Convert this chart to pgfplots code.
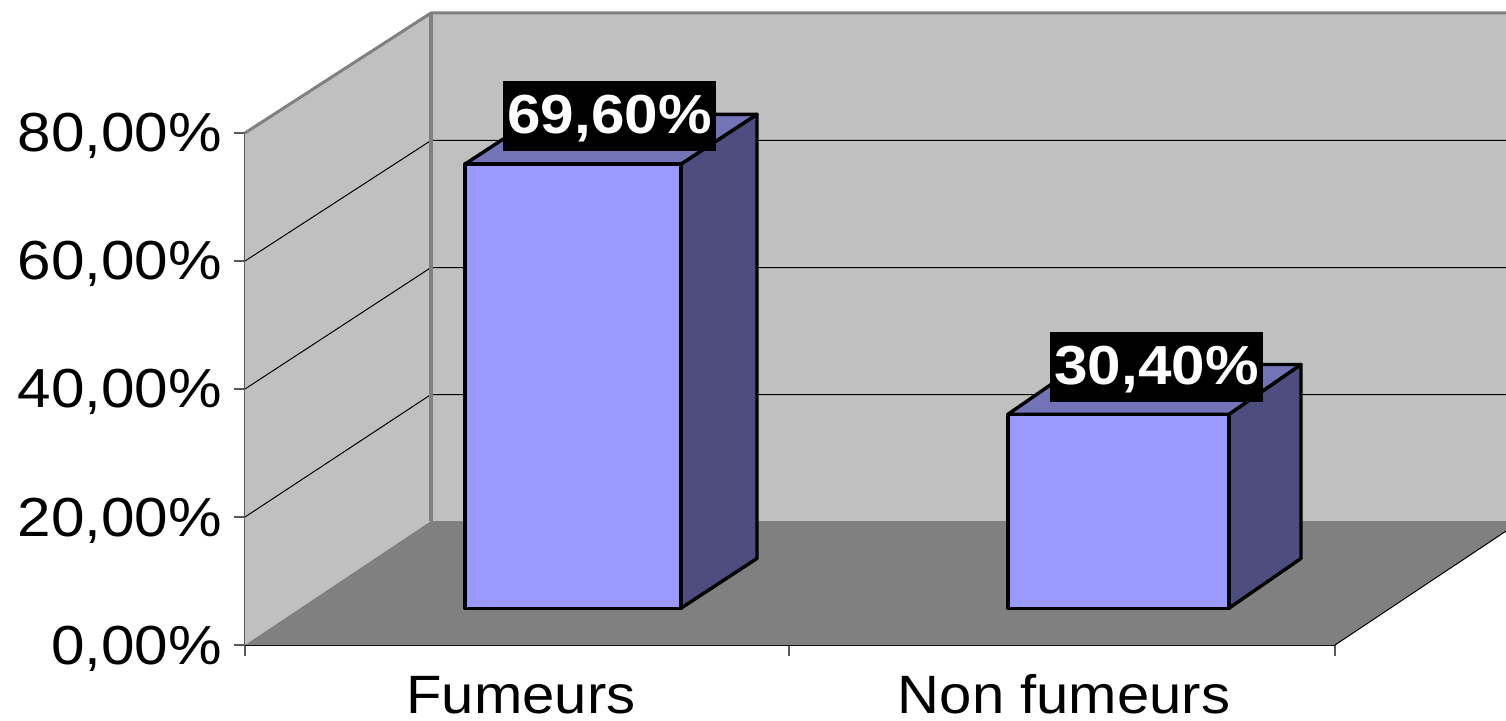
\documentclass[border=0pt]{standalone}
\usepackage{pgfplots}
\pgfplotsset{compat=1.18}
\usepackage{fontspec}
\setmainfont{Liberation Sans}
\newfontfamily\widefont[FakeStretch=1.075]{Liberation Sans}
\newfontfamily\widerfont[FakeStretch=1.095]{Liberation Sans}
\definecolor{wall}{HTML}{C0C0C0}
\definecolor{floorc}{HTML}{808080}
\definecolor{barfront}{HTML}{9999FF}
\definecolor{barside}{HTML}{4D4D80}
\definecolor{bartop}{HTML}{7373B8}
\begin{document}
\begin{tikzpicture}[x=1pt,y=1pt]
\path[use as bounding box] (-245pt,-75pt) rectangle (1261pt,645pt);
\begin{axis}[
  scale only axis, width=1090pt, height=512pt,
  xmin=245, xmax=1335, ymin=0, ymax=80,
  clip=false,
  axis lines=left,
  axis line style={-, black, line width=1.6pt},
  y axis line style={draw=black!70},
  tick align=outside,
  xtick={245,789,1335}, xticklabels={},
  ytick={0,20,40,60,80},
  yticklabels={{0,00\%},{20,00\%},{40,00\%},{60,00\%},{80,00\%}},
  tick style={black!65, line width=1.4pt},
  major tick length=11pt,
  minor tick length=0pt,
  extra x ticks={521,1064},
  extra x tick labels={Fumeurs,Non fumeurs},
  extra x tick style={major tick length=0pt,
    xticklabel style={font=\widefont\fontsize{54}{56}\selectfont, anchor=base, yshift=-68pt, inner sep=0pt}},
  yticklabel style={font=\widerfont\fontsize{55}{57}\selectfont, anchor=base east, yshift=-19pt, xshift=-12pt, inner sep=0pt},
  bar3/.style={draw=black, line width=3.4pt, line join=round, y filter/.expression={0.997*y+5.75}},
]
% walls and floor
\addplot[fill=wall, draw=none] coordinates {(431,19.375)(1506,19.375)(1506,98.75)(431,98.75)} -- cycle;
\addplot[fill=wall, draw=none] coordinates {(245,0)(431,19.375)(431,98.75)(245,80)} -- cycle;
\addplot[fill=floorc, draw=none] coordinates {(245,0)(431,19.375)(1506,19.375)(1506,17.8)(1335,0)} -- cycle;
% floor edge
\addplot[black, line width=1pt] coordinates {(1335,0)(1506,17.8)};
% gridlines
\addplot[black, line width=1pt] coordinates {(245,20)(431,39.14)(1506,39.14)};
\addplot[black, line width=1pt] coordinates {(245,40)(431,58.98)(1506,58.98)};
\addplot[black, line width=1pt] coordinates {(245,60)(431,78.83)(1506,78.83)};
% wall edges
\addplot[floorc, line width=3pt] coordinates {(245,80)(431,98.75)(1506,98.75)};
\addplot[floorc, line width=3.5pt] coordinates {(431,19.375)(431,98.75)};
% Fumeurs 69.6
\addplot[bar3, fill=barside] coordinates {(681,0)(757,7.8)(757,77.4)(681,69.6)} -- cycle;
\addplot[bar3, fill=bartop] coordinates {(465,69.6)(681,69.6)(757,77.4)(541,77.4)} -- cycle;
\addplot[bar3, fill=barfront] coordinates {(465,0)(681,0)(681,69.6)(465,69.6)} -- cycle;
% Non fumeurs 30.4
\addplot[bar3, fill=barside] coordinates {(1229,0)(1301,7.8)(1301,38.2)(1229,30.4)} -- cycle;
\addplot[bar3, fill=bartop] coordinates {(1008,30.4)(1229,30.4)(1301,38.2)(1080,38.2)} -- cycle;
\addplot[bar3, fill=barfront] coordinates {(1008,0)(1229,0)(1229,30.4)(1008,30.4)} -- cycle;
% value labels
\node[fill=black, text=white, font=\widerfont\bfseries\fontsize{55}{57}\selectfont, minimum width=213pt, minimum height=70pt, inner sep=0pt, text height=42pt, text depth=6pt, align=center] at (axis cs:609.5,82.66) {69,60\%};
\node[fill=black, text=white, font=\widerfont\bfseries\fontsize{55}{57}\selectfont, minimum width=213pt, minimum height=70pt, inner sep=0pt, text height=42pt, text depth=6pt, align=center] at (axis cs:1156.5,43.44) {30,40\%};
\end{axis}
\end{tikzpicture}
\end{document}
